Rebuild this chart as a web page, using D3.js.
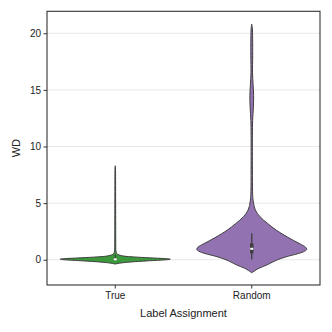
<!DOCTYPE html>
<html><head><meta charset="utf-8">
<script src="https://cdn.jsdelivr.net/npm/d3@7"></script>
<style>body{margin:0;background:#fff}svg{display:block}text{font-family:"Liberation Sans",Arial,sans-serif;fill:#222}</style>
</head><body><svg id="c" width="332" height="332"></svg>
<script>
const categories = ["True", "Random"];
const colors = ["#3b993b", "#9372b2"];
const yTicks = [0, 5, 10, 15, 20];
// density profiles: [value, relative density]
const trueDensity = [[-0.38,0],[-0.3,0.08],[-0.2,0.28],[-0.1,0.58],[0.0,0.93],[0.05,1.0],[0.1,0.9],[0.17,0.62],[0.25,0.33],[0.32,0.16],[0.42,0.07],[0.56,0.025],[0.8,0.012],[1.5,0.009],[3,0.008],[5,0.007],[7,0.006],[8.1,0.004],[8.3,0]];
const randomDensity = [[-1.15,0],[-0.95,0.06],[-0.75,0.13],[-0.47,0.27],[-0.2,0.38],[0,0.47],[0.27,0.63],[0.55,0.85],[0.75,0.96],[0.92,1.0],[1.1,0.98],[1.4,0.88],[1.7,0.76],[2.0,0.65],[2.6,0.45],[3.2,0.29],[3.8,0.15],[4.4,0.065],[5.2,0.026],[6,0.015],[8,0.012],[11,0.012],[12.3,0.016],[13.5,0.03],[14.5,0.034],[15.5,0.024],[16.5,0.014],[18,0.017],[19.5,0.016],[20.5,0.01],[20.8,0]];
const densities = [trueDensity, randomDensity];
// box stats: [whiskerLow, q1, median, q3, whiskerHigh]
const boxStats = [[-0.02, 0.0, 0.04, 0.12, 0.45], [0.03, 0.56, 0.97, 1.45, 2.33]];

const svg = d3.select("#c");
const L = 47, R = 320, T = 11.3, B = 285;
const x = d3.scaleBand().domain(categories).range([L, R]).padding(0);
const y = d3.scaleLinear().domain([-2.23, 21.94]).range([B, T]);
const w = d3.scaleLinear().domain([0, 1]).range([0, 55]);

// grid
svg.append("g").selectAll("line").data(yTicks).join("line")
  .attr("x1", L).attr("x2", R).attr("y1", d => y(d)).attr("y2", d => y(d))
  .attr("stroke", "#e8e8e8").attr("stroke-width", 1);

// violins
categories.forEach((c, i) => {
  const cx = x(c) + x.bandwidth() / 2;
  const area = d3.area()
    .y(d => y(d[0]))
    .x0(d => cx - w(d[1]))
    .x1(d => cx + w(d[1]))
    .curve(d3.curveCatmullRom.alpha(0.5));
  svg.append("path").datum(densities[i]).attr("d", area)
    .attr("fill", colors[i]).attr("stroke", "#3f3f3f").attr("stroke-width", 1);
  const s = boxStats[i];
  svg.append("line").attr("x1", cx).attr("x2", cx).attr("y1", y(s[0])).attr("y2", y(s[4]))
    .attr("stroke", "#3f3f3f").attr("stroke-width", 1.3);
  svg.append("line").attr("x1", cx).attr("x2", cx).attr("y1", y(s[1])).attr("y2", y(s[3]))
    .attr("stroke", "#3f3f3f").attr("stroke-width", 3.5);
  svg.append("rect").attr("x", cx - 1.5).attr("y", y(s[2]) - 1).attr("width", 3).attr("height", 2)
    .attr("fill", "#fff");
});

// axes
const yAxis = d3.axisLeft(y).tickValues(yTicks).tickSize(3.5).tickPadding(2.5);
const gy = svg.append("g").attr("transform", `translate(${L},0)`).call(yAxis);
const xAxis = d3.axisBottom(x).tickSize(3.5).tickPadding(3);
const gx = svg.append("g").attr("transform", `translate(0,${B})`).call(xAxis);
[gy, gx].forEach(g => {
  g.select(".domain").remove();
  g.selectAll(".tick line").attr("stroke", "#333");
  g.selectAll(".tick text").attr("font-size", 10).attr("fill", "#222")
    .attr("font-family", "'Liberation Sans', Arial, sans-serif");
});

// frame
svg.append("rect").attr("x", L).attr("y", T).attr("width", R - L).attr("height", B - T)
  .attr("fill", "none").attr("stroke", "#333").attr("stroke-width", 1.1);

svg.append("text").attr("x", (L + R) / 2).attr("y", 317).attr("text-anchor", "middle")
  .attr("font-size", 11).text("Label Assignment");
svg.append("text").attr("transform", `translate(19.5,${(T + B) / 2}) rotate(-90)`)
  .attr("text-anchor", "middle").attr("font-size", 11).text("WD");
</script></body></html>
